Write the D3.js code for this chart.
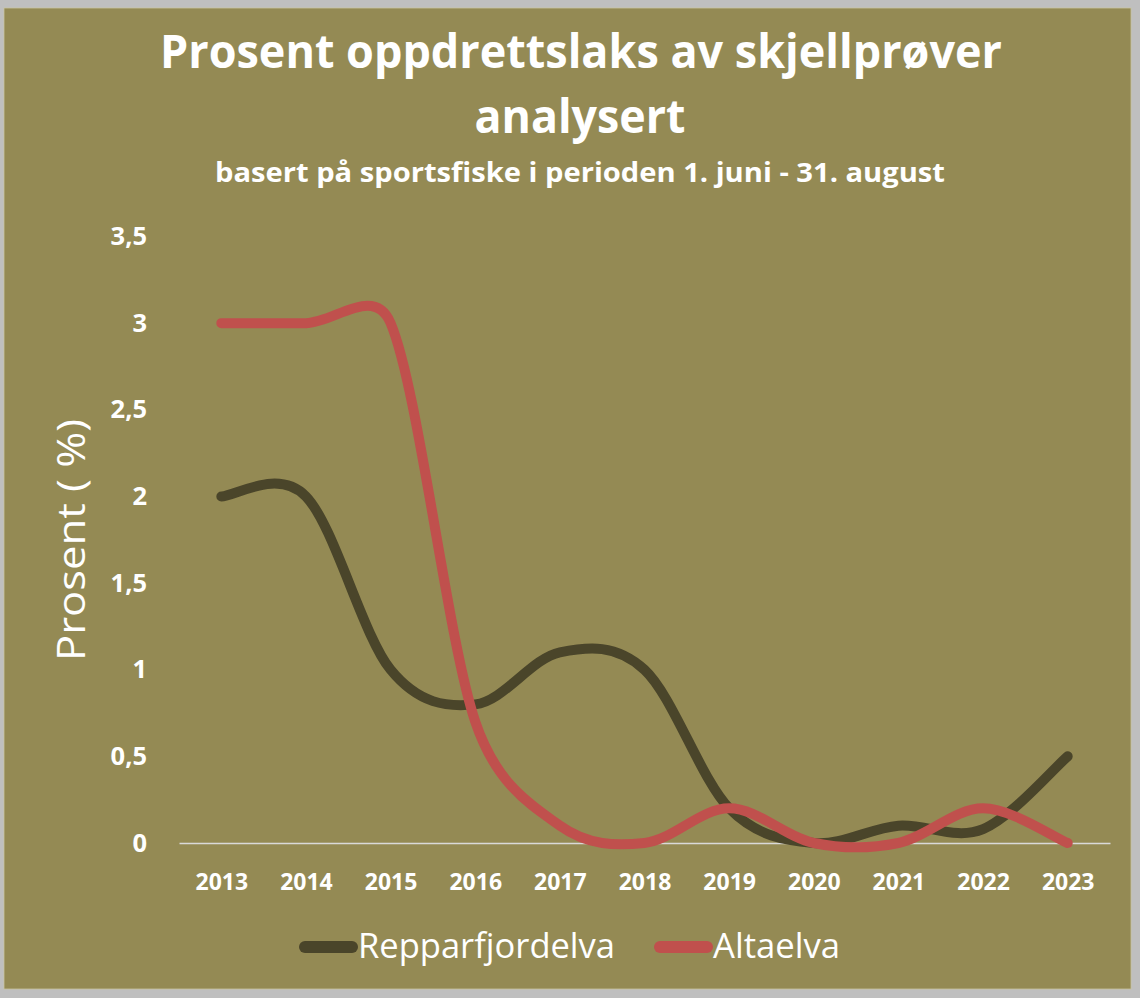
<!DOCTYPE html>
<html>
<head>
<meta charset="utf-8">
<script src="https://cdn.jsdelivr.net/npm/d3@7"></script>
<style>
  html, body { margin: 0; padding: 0; background: #bfbfbf; }
  svg { display: block; font-family: "Open Sans", "Noto Sans", sans-serif; }
</style>
</head>
<body>
<div id="chart"></div>
<script>
// chart data
const years = ["2013", "2014", "2015", "2016", "2017", "2018", "2019", "2020", "2021", "2022", "2023"]
const repparfjordelva = [2, 2, 1, 0.8, 1.1, 1.0, 0.2, 0, 0.1, 0.08, 0.5]
const altaelva = [3, 3, 3, 0.7, 0.1, 0, 0.2, 0, 0, 0.2, 0]
const yTicks = [0, 0.5, 1, 1.5, 2, 2.5, 3, 3.5]
const seriesNames = ["Repparfjordelva", "Altaelva"]

const titleLines = ["Prosent oppdrettslaks av skjellprøver", "analysert"]
const subtitle = "basert på sportsfiske i perioden 1. juni - 31. august"
const yTitle = "Prosent ( %)"

const width = 1140,
  height = 998

const svg = d3.select("#chart").append("svg").attr("width", width).attr("height", height)

// grey frame + olive chart area
svg.append("rect").attr("width", width).attr("height", height).attr("fill", "#bfbfbf")
svg
  .append("rect")
  .attr("x", 4)
  .attr("y", 8)
  .attr("width", 1127)
  .attr("height", 981)
  .attr("fill", "#948a54")
  .attr("stroke", "#c9c4a0")
  .attr("stroke-width", 0.8)

// squeeze text horizontally to the width it has in the picture
function fit(sel, w) {
  sel.attr("textLength", w).attr("lengthAdjust", "spacingAndGlyphs")
}

// titles
svg
  .append("text")
  .attr("x", 581)
  .attr("y", 68)
  .attr("text-anchor", "middle")
  .attr("fill", "#fff")
  .attr("font-size", 46)
  .attr("font-weight", 700)
  .text(titleLines[0])
  .call(fit, 842)

svg
  .append("text")
  .attr("x", 580)
  .attr("y", 133)
  .attr("text-anchor", "middle")
  .attr("fill", "#fff")
  .attr("font-size", 46)
  .attr("font-weight", 700)
  .text(titleLines[1])
  .call(fit, 211)

svg
  .append("text")
  .attr("x", 580)
  .attr("y", 182)
  .attr("text-anchor", "middle")
  .attr("fill", "#fff")
  .attr("font-size", 26)
  .attr("font-weight", 700)
  .text(subtitle)
  .call(fit, 730)

// scales
const x = d3.scalePoint().domain(years).range([179, 1110]).padding(0.5)
const y = d3.scaleLinear().domain([0, 3.5]).range([843, 236.5])

// y axis labels (no line, no ticks)
const yAxis = svg
  .append("g")
  .attr("transform", "translate(150,0)")
  .call(
    d3
      .axisLeft(y)
      .tickValues(yTicks)
      .tickSize(0)
      .tickPadding(3)
      .tickFormat((d) => String(d).replace(".", ",")),
  )
yAxis.select(".domain").remove()
yAxis
  .selectAll("text")
  .attr("fill", "#fff")
  .attr("font-size", 25.5)
  .attr("font-weight", 700)
  .attr("font-family", "Open Sans, sans-serif")

// x axis
const xAxis = svg
  .append("g")
  .attr("transform", "translate(0,843)")
  .call(d3.axisBottom(x).tickSize(0).tickPadding(30))
xAxis
  .select(".domain")
  .attr("stroke", "#d9d9d9")
  .attr("stroke-width", 1.6)
xAxis
  .selectAll("text")
  .attr("fill", "#fff")
  .attr("font-size", 23)
  .attr("font-weight", 700)
  .attr("font-family", "Open Sans, sans-serif")
  .attr("dy", 0)
  .attr("y", 47)

// y axis title
svg
  .append("text")
  .attr("transform", "translate(85,540) rotate(-90)")
  .attr("text-anchor", "middle")
  .attr("fill", "#fff")
  .attr("font-size", 38)
  .text(yTitle)
  .call(fit, 242)

// lines
const series = [
  { name: seriesNames[0], values: repparfjordelva, color: "#4a452a" },
  { name: seriesNames[1], values: altaelva, color: "#c0504d" },
]

// Excel-like smoothed line: bezier with control points at 1/6 of the
// neighbour difference, but never longer than half of the segment
function smoothPath(values) {
  const pts = values.map((v, i) => [x(years[i]), y(v)])
  const n = pts.length
  const tan = pts.map((pt, i) => {
    const a = pts[Math.max(i - 1, 0)],
      b = pts[Math.min(i + 1, n - 1)]
    return [(b[0] - a[0]) / 6, (b[1] - a[1]) / 6]
  })
  const clamp = (v, max) => {
    const l = Math.hypot(v[0], v[1])
    return l > max ? [(v[0] * max) / l, (v[1] * max) / l] : v
  }
  const p = d3.path()
  p.moveTo(pts[0][0], pts[0][1])
  for (let i = 0; i < n - 1; i++) {
    const a = pts[i],
      b = pts[i + 1]
    const half = Math.hypot(b[0] - a[0], b[1] - a[1]) / 2
    const t0 = clamp(tan[i], half),
      t1 = clamp(tan[i + 1], half)
    p.bezierCurveTo(a[0] + t0[0], a[1] + t0[1], b[0] - t1[0], b[1] - t1[1], b[0], b[1])
  }
  return p.toString()
}

svg
  .selectAll(".series")
  .data(series)
  .enter()
  .append("path")
  .attr("class", "series")
  .attr("d", (d) => smoothPath(d.values))
  .attr("fill", "none")
  .attr("stroke", (d) => d.color)
  .attr("stroke-width", 10)
  .attr("stroke-linecap", "round")
  .attr("stroke-linejoin", "round")

// legend
const legendItems = [
  { x: 299, textW: 257 },
  { x: 654, textW: 127 },
]
const legend = svg
  .selectAll(".legend")
  .data(series)
  .enter()
  .append("g")
  .attr("class", "legend")
  .attr("transform", (d, i) => `translate(${legendItems[i].x},947)`)

legend
  .append("line")
  .attr("x1", 6)
  .attr("x2", 53)
  .attr("stroke", (d) => d.color)
  .attr("stroke-width", 12)
  .attr("stroke-linecap", "round")

legend
  .append("text")
  .attr("x", 59)
  .attr("y", 11)
  .attr("fill", "#fff")
  .attr("font-size", 35)
  .text((d) => d.name)
  .each(function (d, i) {
    d3.select(this).call(fit, legendItems[i].textW)
  })
</script>
</body>
</html>
